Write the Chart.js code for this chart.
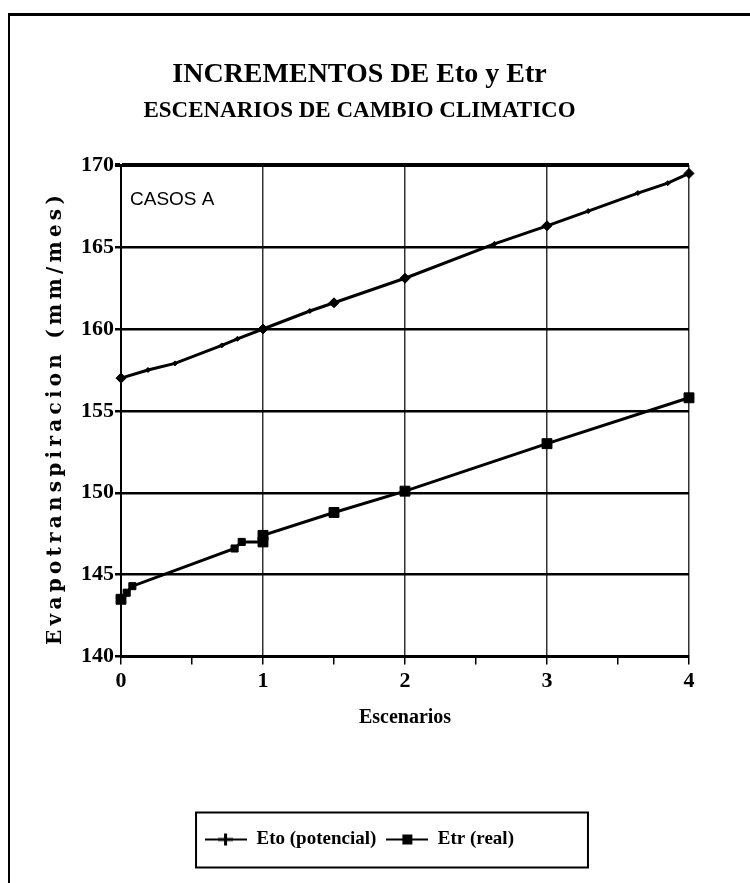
<!DOCTYPE html>
<html>
<head>
<meta charset="utf-8">
<script src="https://cdn.jsdelivr.net/npm/chart.js@4"></script>
<style>
  html, body { margin: 0; padding: 0; background: #fff; }
  #frame {
    position: absolute; left: 8px; top: 13px; width: 742px; height: 870px;
    border-top: 3px solid #000; border-left: 2px solid #000; box-sizing: border-box;
  }
  #wrap { position: absolute; left: 0; top: 0; width: 750px; height: 883px; }
</style>
</head>
<body>
<div id="frame"></div>
<div id="wrap"><canvas id="chart" width="750" height="883"></canvas></div>
<script>
/* DATA */
const xEto = [0, 0.19, 0.38, 0.71, 0.82, 1, 1.33, 1.5, 2, 2.63, 3, 3.29, 3.64, 3.85, 4];
const yEto = [157.0, 157.5, 157.9, 159.0, 159.4, 160.0, 161.1, 161.6, 163.1, 165.2, 166.3, 167.2, 168.3, 168.9, 169.5];
const xEtr = [0, 0.04, 0.08, 0.8, 0.85, 1, 1, 1.5, 2, 3, 4];
const yEtr = [143.5, 143.9, 144.3, 146.6, 147.0, 147.0, 147.4, 148.8, 150.1, 153.0, 155.8];
const yTicks = [140, 145, 150, 155, 160, 165, 170];
const xTicks = [0, 1, 2, 3, 4];
const seriesNames = ["Eto (potencial)", "Etr (real)"];
const chartTitle = "INCREMENTOS DE Eto y Etr";
const chartSubtitle = "ESCENARIOS DE CAMBIO CLIMATICO";
const xAxisTitle = "Escenarios";
const yAxisTitle = "Evapotranspiracion (mm/mes)";
const caseLabel = "CASOS A";

/* tick marks every half step on x, labels only on the integers */
const xMarks = [];
xTicks.forEach((v, i) => {
    xMarks.push(v);
    if (i < xTicks.length - 1) xMarks.push((v + xTicks[i + 1]) / 2);
});

const toPoints = (xs, ys) => xs.map((x, i) => ({ x: x, y: ys[i] }));
const isMain = v => Number.isInteger(v * 2);

/* legend icons: line with marker */
function makeIcon(kind) {
    const c = document.createElement("canvas");
    c.width = 42; c.height = 16;
    const g = c.getContext("2d");
    g.fillStyle = "#000";
    g.fillRect(0, 7, 42, 2);
    if (kind === "plus") {
        g.fillRect(19, 2, 3, 12);
        g.fillRect(13, 6.5, 15, 3);
    } else {
        g.fillRect(16, 3, 10, 10);
    }
    return c;
}
const legendIcons = [makeIcon("plus"), makeIcon("square")];

/* extra drawing: y title, case label, legend frame */
const extras = {
    id: "extras",
    afterDraw(chart) {
        const g = chart.ctx, a = chart.chartArea;
        g.save();
        g.fillStyle = "#000";
        g.font = 'bold 20px "DejaVu Serif"';
        const w = g.measureText(yAxisTitle).width;
        g.letterSpacing = Math.max(0, (454 - w) / yAxisTitle.length) + "px";
        g.translate(56, (a.top + a.bottom) / 2 + 7);
        g.rotate(-Math.PI / 2);
        g.textAlign = "center";
        g.textBaseline = "middle";
        g.fillText(yAxisTitle, 0, 0);
        g.restore();

        g.save();
        g.fillStyle = "#000";
        g.font = '19px "Liberation Sans"';
        g.textBaseline = "alphabetic";
        g.fillText(caseLabel, a.left + 9, a.top + 40);
        g.restore();

        const hb = chart.legend.legendHitBoxes;
        if (hb && hb.length) {
            const first = hb[0], last = hb[hb.length - 1];
            const cy = first.top + first.height / 2;
            const left = first.left - 9;
            const right = last.left + last.width + 74;
            g.save();
            g.strokeStyle = "#000";
            g.lineWidth = 2;
            g.strokeRect(left, cy - 27, right - left, 55);
            g.restore();
        }
    }
};

const serif = "Liberation Serif";

new Chart(document.getElementById("chart"), {
    type: "line",
    data: {
        datasets: [{
            label: seriesNames[0],
            data: toPoints(xEto, yEto),
            borderColor: "#000",
            backgroundColor: "#000",
            borderWidth: 3,
            tension: 0,
            pointStyle: "rectRot",
            pointRadius: c => isMain(c.raw.x) ? 5 : 2.5,
            pointBorderWidth: 1,
            clip: false
        }, {
            label: seriesNames[1],
            data: toPoints(xEtr, yEtr),
            borderColor: "#000",
            backgroundColor: "#000",
            borderWidth: 3,
            tension: 0,
            pointStyle: "rect",
            pointRadius: c => isMain(c.raw.x) ? 7 : 5,
            pointBorderWidth: 1,
            clip: false
        }]
    },
    options: {
        responsive: false,
        animation: false,
        layout: { padding: { left: 30, right: 61, top: 0, bottom: 24 } },
        scales: {
            x: {
                type: "linear",
                min: 0, max: 4,
                afterBuildTicks: s => { s.ticks = xMarks.map(v => ({ value: v })); },
                ticks: {
                    color: "#000",
                    padding: 4,
                    maxRotation: 0,
                    font: { family: serif, size: 22, weight: "bold" },
                    callback: v => Number.isInteger(v) ? String(v) : ""
                },
                grid: {
                    color: c => Number.isInteger(c.tick.value) ? "#333" : "transparent",
                    tickColor: "#000",
                    lineWidth: 1.5,
                    tickLength: 8
                },
                border: { color: "#000", width: 3 },
                title: {
                    display: true,
                    text: xAxisTitle,
                    color: "#000",
                    font: { family: serif, size: 20, weight: "bold" },
                    padding: { top: 7, bottom: 90 }
                }
            },
            y: {
                min: 140, max: 170,
                afterBuildTicks: s => { s.ticks = yTicks.map(v => ({ value: v })); },
                afterFit: s => { s.width = 91; },
                ticks: {
                    color: "#000",
                    padding: 1,
                    font: { family: serif, size: 22, weight: "bold" }
                },
                grid: {
                    color: "#000",
                    lineWidth: c => c.tick.value === 170 ? 4 : 2.5,
                    tickLength: 6
                },
                border: { color: "#000", width: 2 }
            }
        },
        plugins: {
            title: {
                display: true,
                text: chartTitle,
                color: "#000",
                font: { family: serif, size: 28, weight: "bold" },
                padding: { top: 58, bottom: 0 }
            },
            subtitle: {
                display: true,
                text: chartSubtitle,
                color: "#000",
                font: { family: serif, size: 23, weight: "bold" },
                padding: { top: 6, bottom: 40 }
            },
            legend: {
                position: "bottom",
                labels: {
                    color: "#000",
                    padding: 10,
                    usePointStyle: true,
                    pointStyleWidth: 42,
                    font: { family: serif, size: 19, weight: "bold" },
                    generateLabels(chart) {
                        const items = Chart.defaults.plugins.legend.labels.generateLabels(chart);
                        items.forEach((it, i) => { it.pointStyle = legendIcons[i]; });
                        return items;
                    }
                }
            },
            tooltip: { enabled: false }
        }
    },
    plugins: [extras]
});
</script>
</body>
</html>
